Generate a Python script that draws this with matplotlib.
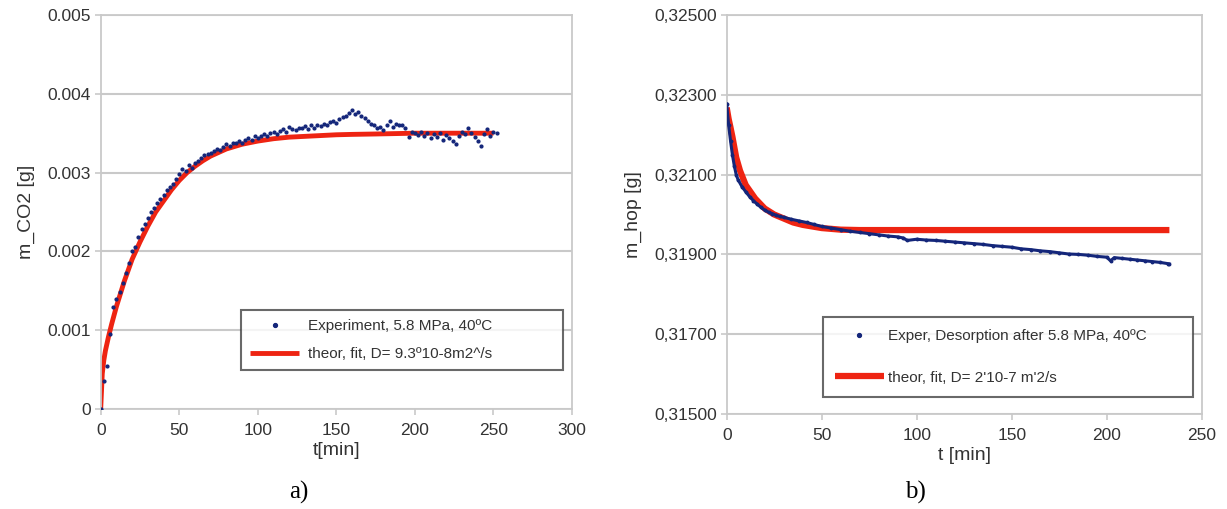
import numpy as np
import matplotlib
matplotlib.use("Agg")
import matplotlib.pyplot as plt
from matplotlib.ticker import FixedLocator, FixedFormatter
from matplotlib.lines import Line2D

# ---------------- data: panel a) ----------------
a_exp_t = list(range(0, 253, 2))
a_exp_m = [0.00, 0.35, 0.55, 0.95, 1.30, 1.40, 1.48, 1.60, 1.72, 1.85,
           2.00, 2.05, 2.18, 2.28, 2.35, 2.42, 2.50, 2.55, 2.62, 2.66,
           2.72, 2.78, 2.82, 2.86, 2.92, 2.98, 3.05, 3.02, 3.10, 3.06,
           3.12, 3.15, 3.18, 3.22, 3.24, 3.25, 3.28, 3.30, 3.29, 3.33,
           3.36, 3.34, 3.38, 3.37, 3.40, 3.38, 3.41, 3.44, 3.42, 3.46,
           3.44, 3.47, 3.49, 3.46, 3.50, 3.52, 3.49, 3.53, 3.55, 3.52,
           3.58, 3.55, 3.54, 3.57, 3.56, 3.59, 3.55, 3.60, 3.57, 3.61,
           3.59, 3.62, 3.60, 3.64, 3.66, 3.63, 3.68, 3.70, 3.72, 3.76,
           3.80, 3.74, 3.77, 3.72, 3.69, 3.65, 3.62, 3.60, 3.56, 3.58,
           3.54, 3.60, 3.65, 3.58, 3.62, 3.60, 3.61, 3.56, 3.45, 3.52,
           3.50, 3.48, 3.52, 3.46, 3.50, 3.44, 3.49, 3.45, 3.50, 3.42,
           3.48, 3.44, 3.40, 3.36, 3.47, 3.52, 3.49, 3.56, 3.50, 3.45,
           3.40, 3.34, 3.49, 3.55, 3.47, 3.52, 3.50]
a_fit_t = [0, 1, 2, 3, 5, 7, 10, 15, 20, 25, 30, 35, 40, 45, 50, 55, 60,
           65, 70, 80, 90, 100, 110, 120, 130, 140, 150, 160, 175, 200, 225, 250]
a_fit_m = [0.00, 0.45, 0.62, 0.74, 0.92, 1.08, 1.30, 1.62, 1.90, 2.12, 2.32,
           2.50, 2.64, 2.78, 2.90, 3.00, 3.08, 3.15, 3.21, 3.30, 3.36, 3.40,
           3.43, 3.45, 3.46, 3.47, 3.48, 3.485, 3.49, 3.50, 3.50, 3.50]
a_exp_m = [v * 1e-3 for v in a_exp_m]
a_fit_m = [v * 1e-3 for v in a_fit_m]
a_xticks = [0, 50, 100, 150, 200, 250, 300]
a_yticks = [0, 0.001, 0.002, 0.003, 0.004, 0.005]
a_yticklabels = ["0", "0.001", "0.002", "0.003", "0.004", "0.005"]

# ---------------- data: panel b) ----------------
b_exp_t = [0, 1, 2, 3, 4, 5, 6, 8, 10, 12, 14, 16, 18, 20, 22, 24, 26, 28,
           30, 34, 38, 42, 46, 50, 55, 60, 65, 70, 75, 80, 85, 90, 93, 95,
           100, 105, 110, 115, 120, 125, 130, 135, 140, 145, 150, 155, 160,
           165, 170, 175, 180, 185, 190, 195, 200, 202, 204, 208, 212, 216,
           220, 224, 228, 232, 233]
b_exp_m = [0.32277, 0.32225, 0.32185, 0.32150, 0.32122, 0.32100, 0.32087,
           0.32070, 0.32057, 0.32045, 0.32035, 0.32026, 0.32018, 0.32011,
           0.32006, 0.32002, 0.31998, 0.31995, 0.31993, 0.31988, 0.31984,
           0.31980, 0.31975, 0.31970, 0.31966, 0.31962, 0.31958, 0.31955,
           0.31952, 0.31949, 0.31946, 0.31944, 0.31941, 0.31935, 0.31938,
           0.31936, 0.31935, 0.31933, 0.31931, 0.31929, 0.31927, 0.31925,
           0.31922, 0.31920, 0.31918, 0.31914, 0.31912, 0.31909, 0.31907,
           0.31904, 0.31901, 0.31900, 0.31898, 0.31895, 0.31893, 0.31884,
           0.31892, 0.31890, 0.31888, 0.31886, 0.31884, 0.31882, 0.31880,
           0.31877, 0.31876]
b_fit_t = [0, 1, 2, 3, 5, 7, 10, 15, 20, 25, 30, 35, 40, 50, 60, 70, 80,
           100, 150, 200, 233]
b_fit_m = [0.32268, 0.32240, 0.32218, 0.32195, 0.32143, 0.32110, 0.32074,
           0.32040, 0.32015, 0.32000, 0.31990, 0.31980, 0.31974, 0.31966,
           0.31962, 0.31961, 0.31961, 0.31961, 0.31961, 0.31961, 0.31961]
b_xticks = [0, 50, 100, 150, 200, 250]
b_yticks = [0.315, 0.317, 0.319, 0.321, 0.323, 0.325]
b_yticklabels = ["0,31500", "0,31700", "0,31900", "0,32100", "0,32300", "0,32500"]

# ---------------- styling ----------------
plt.rcParams['font.family'] = ['Liberation Sans', 'DejaVu Sans']
BLUE = '#14267a'
RED = '#ee2412'
GRID = '#c9c9c9'
TXT = '#333333'

W, H = 1227, 509
fig = plt.figure(figsize=(W / 100, H / 100), dpi=100)

def px_axes(x0, x1, y0, y1):
    return fig.add_axes([x0 / W, 1 - y1 / H, (x1 - x0) / W, (y1 - y0) / H])

axA = px_axes(100.7, 572, 15, 409)
axB = px_axes(726.7, 1201.7, 15, 414)

def style(ax):
    for s in ax.spines.values():
        s.set_color(GRID)
        s.set_linewidth(1.3)
    ax.grid(axis='y', color=GRID, linewidth=1.5)
    ax.set_axisbelow(True)
    ax.tick_params(axis='both', colors=GRID, labelcolor=TXT, labelsize=12.5,
                   length=4, width=1.2, direction='out')
    ax.tick_params(axis='y', pad=3)
    ax.tick_params(axis='x', pad=6)

# panel a
style(axA)
axA.plot(a_fit_t, a_fit_m, color=RED, lw=3.5, zorder=2,
         label='theor, fit, D= 9.3º10-8m2^/s', solid_capstyle='butt')
axA.plot(a_exp_t, a_exp_m, linestyle='none', marker='o', ms=2.0, color=BLUE,
         zorder=3, label='Experiment, 5.8 MPa, 40ºC')
axA.set_xlim(0, 300)
axA.set_ylim(0, 0.005)
axA.xaxis.set_major_locator(FixedLocator(a_xticks))
axA.yaxis.set_major_locator(FixedLocator(a_yticks))
axA.yaxis.set_major_formatter(FixedFormatter(a_yticklabels))
axA.set_xlabel('t[min]', fontsize=14, color=TXT, labelpad=3)
axA.set_ylabel('m_CO2 [g]', fontsize=14, color=TXT, labelpad=9)
h, l = axA.get_legend_handles_labels()
legA = axA.legend([h[1], h[0]], [l[1], l[0]], loc='lower left',
                  bbox_to_anchor=(0.298, 0.098, 0.682, 0.172), mode='expand',
                  fontsize=11, frameon=True, fancybox=False, labelspacing=0.9,
                  borderpad=0.6, handlelength=3.2, handletextpad=0.6,
                  markerscale=1.4, borderaxespad=0)
legA.get_frame().set_edgecolor('#444444')
legA.get_frame().set_linewidth(1.5)
for t in legA.get_texts():
    t.set_color(TXT)

# panel b
style(axB)
axB.plot(b_fit_t, b_fit_m, color=RED, lw=4.5, zorder=2,
         label="theor, fit, D= 2'10-7 m'2/s", solid_capstyle='butt')
axB.plot(b_exp_t, b_exp_m, linestyle='-', lw=2.2, marker='o', ms=1.8,
         color=BLUE, zorder=3, label='Exper, Desorption after 5.8 MPa, 40ºC')
axB.set_xlim(0, 250)
axB.set_ylim(0.315, 0.325)
axB.xaxis.set_major_locator(FixedLocator(b_xticks))
axB.yaxis.set_major_locator(FixedLocator(b_yticks))
axB.yaxis.set_major_formatter(FixedFormatter(b_yticklabels))
axB.set_xlabel('t [min]', fontsize=14, color=TXT, labelpad=3)
axB.set_ylabel('m_hop [g]', fontsize=14, color=TXT, labelpad=9)
h, l = axB.get_legend_handles_labels()
dot = Line2D([], [], linestyle='none', marker='o', ms=2.8, color=BLUE)
legB = axB.legend([dot, h[0]], [l[1], l[0]], loc='lower left',
                  bbox_to_anchor=(0.202, 0.043, 0.779, 0.223), mode='expand',
                  fontsize=11, frameon=True, fancybox=False, labelspacing=1.8,
                  borderpad=0.8, handlelength=3.2, handletextpad=0.3,
                  borderaxespad=0)
legB.get_frame().set_edgecolor('#444444')
legB.get_frame().set_linewidth(1.5)
for t in legB.get_texts():
    t.set_color(TXT)

# panel captions
fig.text(298.7 / W, 1 - 492 / H, 'a)', fontsize=18, family='Liberation Serif',
         ha='center', va='center', color='black')
fig.text(915.6 / W, 1 - 492 / H, 'b)', fontsize=18, family='Liberation Serif',
         ha='center', va='center', color='black')

fig.savefig('out.png', dpi=100, facecolor='white')
